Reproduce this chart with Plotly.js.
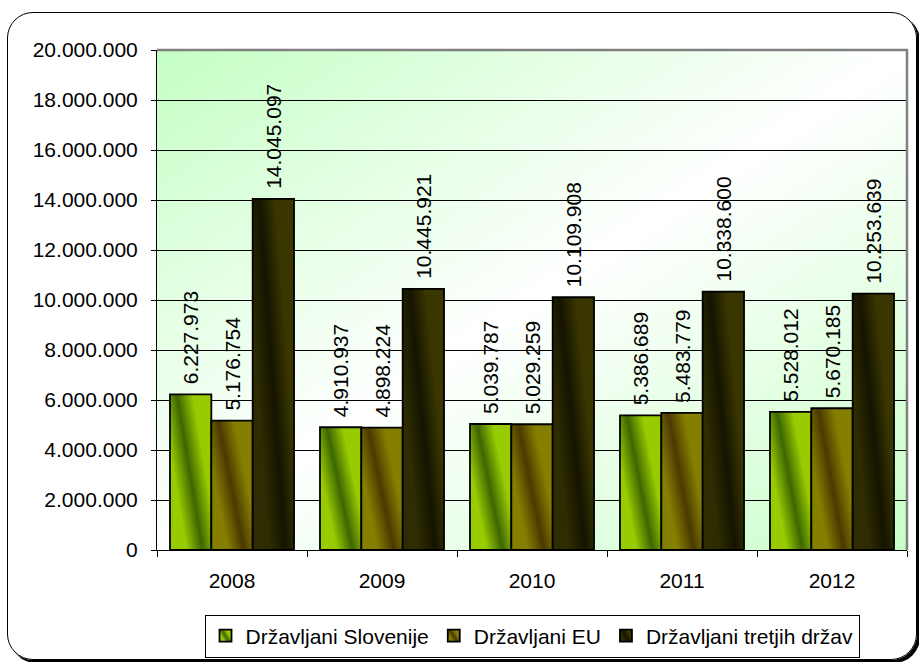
<!DOCTYPE html>
<html>
<head>
<meta charset="utf-8">
<script src="https://cdn.plot.ly/plotly-3.0.1.min.js"></script>
<style>
html,body{margin:0;padding:0;background:#fff;}
#wrap{position:relative;width:919px;height:662px;overflow:hidden;background:#fff;}
#frame{position:absolute;left:7px;top:12px;width:908px;height:646px;border:1.5px solid #000;border-radius:26px;box-shadow:3px 3px 0 #000;}
#chart{position:absolute;left:0;top:0;width:919px;height:662px;}
</style>
</head>
<body>
<div id="wrap"><div id="frame"></div><div id="chart"></div></div>
<script>
// ---- data ----
const years = ['2008', '2009', '2010', '2011', '2012'];
const slovenija = [6227973, 4910937, 5039787, 5386689, 5528012];
const eu = [5176754, 4898224, 5029259, 5483779, 5670185];
const tretje = [14045097, 10445921, 10109908, 10338600, 10253639];
const seriesNames = ['Državljani Slovenije', 'Državljani EU', 'Državljani tretjih držav'];

function fmt(v) { return String(v).replace(/\B(?=(\d{3})+(?!\d))/g, '.'); }

const FONT = 'Liberation Sans, Arial, sans-serif';
const series = [slovenija, eu, tretje];
const baseColors = ['#6a9a00', '#665c00', '#222200'];

const traces = series.map((vals, i) => ({
  type: 'bar',
  x: years,
  y: vals,
  name: seriesNames[i],
  text: vals.map(fmt),
  textposition: 'outside',
  textangle: -90,
  constraintext: 'none',
  textfont: {family: FONT, size: 21, color: '#000'},
  cliponaxis: false,
  marker: {color: baseColors[i], line: {color: '#000', width: 1.8}},
  hoverinfo: 'x+y+name'
}));

const bgSvg = "<svg xmlns='http://www.w3.org/2000/svg' width='100' height='100' viewBox='0 0 100 100' preserveAspectRatio='none'>" +
  "<defs><linearGradient id='g' x1='0' y1='0' x2='1' y2='1'>" +
  "<stop offset='0' stop-color='#c4ffc4'/><stop offset='0.5' stop-color='#ffffff'/><stop offset='1' stop-color='#c8ffc8'/>" +
  "</linearGradient></defs><rect x='0' y='0' width='100' height='100' fill='url(#g)'/></svg>";

const layout = {
  width: 919,
  height: 662,
  margin: {l: 157, r: 12, t: 50, b: 112, pad: 0, autoexpand: false},
  paper_bgcolor: 'rgba(0,0,0,0)',
  plot_bgcolor: 'rgba(0,0,0,0)',
  separators: ',.',
  font: {family: FONT, size: 21, color: '#000'},
  barmode: 'group',
  bargap: 0.173,
  bargroupgap: 0,
  showlegend: true,
  xaxis: {
    type: 'category',
    showline: true, linecolor: '#000', linewidth: 1,
    ticks: 'outside', tickson: 'boundaries', ticklen: 6, tickcolor: '#000', tickwidth: 1,
    showgrid: false, zeroline: false,
    ticklabelstandoff: 12,
    tickfont: {family: FONT, size: 21, color: '#000'},
    fixedrange: true
  },
  yaxis: {
    range: [0, 20000000],
    tick0: 0, dtick: 2000000,
    tickformat: ',.0f',
    showgrid: true, gridcolor: '#000', gridwidth: 1,
    showline: true, linecolor: '#000', linewidth: 1,
    ticks: 'outside', ticklen: 5, tickcolor: '#000', tickwidth: 1,
    zeroline: false,
    ticklabelstandoff: 9,
    tickfont: {family: FONT, size: 21, color: '#000'},
    fixedrange: true
  },
  legend: {
    orientation: 'h',
    x: 0.5, xanchor: 'center',
    y: -0.172, yanchor: 'middle',
    bgcolor: '#fff', bordercolor: '#000', borderwidth: 1,
    font: {family: FONT, size: 21, color: '#000'},
    itemwidth: 30,
    traceorder: 'normal'
  },
  images: [{
    source: 'data:image/svg+xml;charset=utf-8,' + encodeURIComponent(bgSvg),
    xref: 'paper', yref: 'paper', x: 0, y: 1, sizex: 1, sizey: 1,
    xanchor: 'left', yanchor: 'top', sizing: 'stretch', layer: 'below'
  }],
  shapes: [{
    type: 'path', xref: 'paper', yref: 'paper',
    path: 'M0,1L1,1L1,0',
    line: {color: '#808080', width: 2.5},
    layer: 'above'
  }]
};

const gradDefs = [
  ['#99cc00', '#3d6600', '#99cc00'],
  ['#857f00', '#4a3a00', '#857f00'],
  ['#2e2c00', '#141400', '#3a3600']
];

function applyGradients(gd) {
  const svg = gd.querySelector('svg.main-svg');
  if (!svg) return;
  let defs = svg.querySelector('defs');
  const NS = 'http://www.w3.org/2000/svg';
  if (!defs) { defs = document.createElementNS(NS, 'defs'); svg.insertBefore(defs, svg.firstChild); }
  gradDefs.forEach((stops, i) => {
    const id = 'bargrad' + i;
    if (svg.querySelector('#' + id)) return;
    const lg = document.createElementNS(NS, 'linearGradient');
    lg.setAttribute('id', id);
    lg.setAttribute('x1', '0.12'); lg.setAttribute('y1', '0.55');
    lg.setAttribute('x2', '0.68'); lg.setAttribute('y2', '0.2');
    stops.forEach((c, k) => {
      const s = document.createElementNS(NS, 'stop');
      s.setAttribute('offset', String(k / (stops.length - 1)));
      s.setAttribute('stop-color', c);
      lg.appendChild(s);
    });
    defs.appendChild(lg);
  });
  gd.querySelectorAll('.barlayer .trace').forEach((tr, i) => {
    tr.querySelectorAll('.point path').forEach(p => { p.style.fill = 'url(#bargrad' + (i % 3) + ')'; });
    tr.querySelectorAll('.point text').forEach(t => {
      if (t.getAttribute('data-shifted') === '1') return;
      const tf = t.getAttribute('transform') || '';
      t.setAttribute('transform', 'translate(0,-7) ' + tf);
      t.setAttribute('data-shifted', '1');
    });
  });
  gd.querySelectorAll('.legend .traces').forEach((t, i) => {
    t.querySelectorAll('.legendpoints path').forEach(p => { p.style.fill = 'url(#bargrad' + (i % 3) + ')'; });
  });
}

Plotly.newPlot('chart', traces, layout, {displayModeBar: false, staticPlot: true}).then(gd => {
  applyGradients(gd);
  gd.on('plotly_afterplot', () => applyGradients(gd));
});
</script>
</body>
</html>
